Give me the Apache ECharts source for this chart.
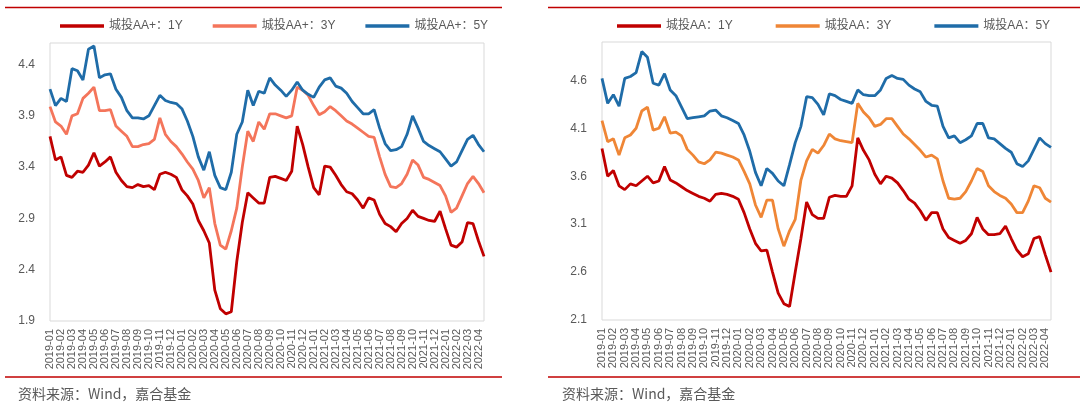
<!DOCTYPE html>
<html><head><meta charset="utf-8">
<script src="https://cdn.jsdelivr.net/npm/echarts@6/dist/echarts.min.js"></script>
<style>html,body{margin:0;padding:0;background:#fff}#c{width:1080px;height:406px}</style>
</head><body><div id="c"></div>
<script>
// Tick labels (months on x axis; two observations per month)
const months = ['2019-01','2019-02','2019-03','2019-04','2019-05','2019-06','2019-07','2019-08','2019-09','2019-10','2019-11','2019-12',
'2020-01','2020-02','2020-03','2020-04','2020-05','2020-06','2020-07','2020-08','2020-09','2020-10','2020-11','2020-12',
'2021-01','2021-02','2021-03','2021-04','2021-05','2021-06','2021-07','2021-08','2021-09','2021-10','2021-11','2021-12',
'2022-01','2022-02','2022-03','2022-04'];
const leftYTicks = [1.9, 2.4, 2.9, 3.4, 3.9, 4.4];
const rightYTicks = [2.1, 2.6, 3.1, 3.6, 4.1, 4.6];

// Left chart: 城投AA+
const aaPlus1Y = [3.70,3.47,3.50,3.32,3.30,3.36,3.35,3.42,3.54,3.41,3.45,3.50,3.35,3.27,3.21,3.20,3.23,3.21,3.22,3.18,
3.33,3.35,3.33,3.30,3.18,3.12,3.04,2.88,2.78,2.66,2.20,2.02,1.97,1.99,2.48,2.86,3.15,3.10,3.05,3.05,
3.30,3.31,3.29,3.27,3.36,3.80,3.62,3.40,3.20,3.13,3.41,3.40,3.32,3.23,3.16,3.14,3.08,3.00,3.10,3.08,
2.94,2.85,2.82,2.77,2.85,2.90,2.98,2.92,2.90,2.88,2.87,2.97,2.80,2.64,2.62,2.67,2.86,2.85,2.68,2.53];
const aaPlus3Y = [3.99,3.84,3.80,3.72,3.90,3.92,4.07,4.12,4.18,3.95,3.95,3.96,3.80,3.75,3.70,3.60,3.60,3.62,3.63,3.67,
3.88,3.72,3.65,3.60,3.53,3.45,3.38,3.27,3.10,3.20,2.85,2.64,2.60,2.78,3.00,3.40,3.75,3.65,3.84,3.77,
3.92,3.92,3.90,3.88,3.90,4.18,4.15,4.10,4.00,3.91,3.94,3.99,3.95,3.90,3.85,3.82,3.78,3.74,3.70,3.69,
3.50,3.33,3.21,3.20,3.24,3.33,3.47,3.42,3.30,3.28,3.25,3.22,3.12,2.96,3.00,3.12,3.24,3.31,3.24,3.15];
const aaPlus5Y = [4.16,4.00,4.07,4.04,4.36,4.34,4.25,4.55,4.58,4.27,4.30,4.31,4.16,4.08,3.95,3.88,3.88,3.87,3.90,4.00,
4.10,4.05,4.03,4.02,3.97,3.85,3.70,3.50,3.37,3.55,3.32,3.20,3.18,3.35,3.72,3.84,4.15,4.00,4.14,4.12,
4.27,4.20,4.15,4.09,4.15,4.23,4.15,4.11,4.08,4.18,4.25,4.27,4.19,4.17,4.12,4.04,3.98,3.92,3.92,3.96,
3.78,3.63,3.56,3.57,3.60,3.72,3.90,3.78,3.65,3.61,3.58,3.55,3.48,3.41,3.45,3.56,3.67,3.71,3.62,3.55];

// Right chart: 城投AA
const aa1Y = [3.89,3.60,3.66,3.50,3.46,3.52,3.50,3.55,3.60,3.53,3.55,3.70,3.56,3.53,3.49,3.45,3.42,3.39,3.37,3.34,
3.41,3.42,3.41,3.39,3.36,3.22,3.05,2.90,2.82,2.83,2.60,2.38,2.27,2.24,2.60,2.95,3.33,3.20,3.16,3.16,
3.38,3.40,3.39,3.39,3.50,4.00,3.87,3.77,3.62,3.52,3.60,3.58,3.53,3.45,3.36,3.32,3.24,3.14,3.22,3.22,
3.05,2.96,2.93,2.90,2.93,3.00,3.17,3.05,2.99,2.99,3.00,3.08,2.95,2.83,2.76,2.79,2.95,2.97,2.78,2.60];
const aa3Y = [4.18,3.96,3.99,3.82,4.00,4.03,4.10,4.28,4.32,4.08,4.10,4.22,4.05,4.06,4.02,3.88,3.82,3.75,3.73,3.77,
3.85,3.84,3.82,3.80,3.77,3.65,3.52,3.30,3.17,3.35,3.35,3.05,2.87,3.03,3.15,3.56,3.76,3.88,3.84,3.92,
4.04,3.99,3.97,3.96,3.95,4.36,4.27,4.21,4.12,4.14,4.20,4.20,4.12,4.04,3.99,3.93,3.87,3.80,3.82,3.78,
3.55,3.37,3.36,3.37,3.44,3.55,3.68,3.65,3.50,3.44,3.40,3.37,3.31,3.22,3.22,3.34,3.50,3.48,3.37,3.33];
const aa5Y = [4.62,4.36,4.45,4.33,4.62,4.64,4.68,4.90,4.84,4.57,4.55,4.67,4.50,4.44,4.32,4.20,4.21,4.22,4.23,4.28,
4.29,4.23,4.21,4.18,4.15,4.03,3.86,3.64,3.50,3.68,3.63,3.55,3.50,3.72,3.95,4.12,4.43,4.42,4.35,4.24,
4.46,4.44,4.40,4.38,4.36,4.50,4.45,4.44,4.44,4.50,4.62,4.65,4.62,4.61,4.55,4.51,4.48,4.38,4.34,4.33,
4.12,4.00,4.02,3.95,3.98,4.02,4.15,4.15,4.00,3.99,3.94,3.89,3.85,3.73,3.70,3.76,3.88,4.00,3.94,3.90];

const categories = months.flatMap(m => [m + '/a', m + '/b']);

const FONT = 'Liberation Sans, Noto Sans CJK SC, sans-serif';
const GREY = '#595959';
const RED = '#C00000';

function xAxis(gi) {
  return {
    type: 'category', gridIndex: gi, data: categories, boundaryGap: false,
    axisLine: {show: false}, axisTick: {show: false},
    axisLabel: {
      interval: (idx) => idx % 2 === 0,
      formatter: (v) => v.slice(0, 7),
      rotate: 90, margin: 8, color: GREY, fontSize: 11, fontFamily: FONT
    },
    splitLine: {show: false}
  };
}
function yAxis(gi, min, max, ticks) {
  return {
    type: 'value', gridIndex: gi, min: min, max: max,
    axisLine: {show: false}, axisTick: {show: false}, splitLine: {show: false},
    axisLabel: {customValues: ticks, formatter: (v) => v.toFixed(1), color: GREY, fontSize: 12, fontFamily: FONT, margin: 15}
  };
}
function line(name, data, color, gi) {
  return {name, type: 'line', data, xAxisIndex: gi, yAxisIndex: gi, symbol: 'none',
    lineStyle: {color, width: 2.8}, itemStyle: {color}, animation: false};
}

const chart = echarts.init(document.getElementById('c'), null, {renderer: 'canvas'});
chart.setOption({
  animation: false,
  grid: [
    {left: 50, top: 43, width: 434, height: 278, show: true, borderColor: '#d9d9d9', borderWidth: 1},
    {left: 602, top: 42, width: 449, height: 278, show: true, borderColor: '#d9d9d9', borderWidth: 1}
  ],
  legend: [
    {data: ['城投AA+：1Y', '城投AA+：3Y', '城投AA+：5Y'], left: 60, top: 20, padding: 0, icon: 'rect', itemWidth: 44, itemHeight: 3.5,
     itemGap: 30, textStyle: {color: GREY, fontSize: 12, fontFamily: FONT}},
    {data: ['城投AA：1Y', '城投AA：3Y', '城投AA：5Y'], left: 617, top: 20, padding: 0, icon: 'rect', itemWidth: 44, itemHeight: 3.5,
     itemGap: 43, textStyle: {color: GREY, fontSize: 12, fontFamily: FONT}}
  ],
  xAxis: [xAxis(0), xAxis(1)],
  yAxis: [yAxis(0, 1.9, 4.61, leftYTicks), yAxis(1, 2.1, 5.0, rightYTicks)],
  series: [
    line('城投AA+：1Y', aaPlus1Y, '#C00000', 0),
    line('城投AA+：3Y', aaPlus3Y, '#F4755B', 0),
    line('城投AA+：5Y', aaPlus5Y, '#1F6CA8', 0),
    line('城投AA：1Y', aa1Y, '#C00000', 1),
    line('城投AA：3Y', aa3Y, '#EF8636', 1),
    line('城投AA：5Y', aa5Y, '#1F6CA8', 1)
  ],
  graphic: [
    {type: 'line', shape: {x1: 5, y1: 7.5, x2: 502, y2: 7.5}, style: {stroke: RED, lineWidth: 1.5}},
    {type: 'line', shape: {x1: 548, y1: 7.5, x2: 1080, y2: 7.5}, style: {stroke: RED, lineWidth: 1.5}},
    {type: 'line', shape: {x1: 5, y1: 377, x2: 502, y2: 377}, style: {stroke: RED, lineWidth: 1.5}},
    {type: 'line', shape: {x1: 548, y1: 377, x2: 1080, y2: 377}, style: {stroke: RED, lineWidth: 1.5}},
    {type: 'text', left: 18, top: 387, style: {text: '资料来源：Wind，嘉合基金', fill: GREY, font: '14px "Noto Sans CJK SC", sans-serif'}},
    {type: 'text', left: 562, top: 387, style: {text: '资料来源：Wind，嘉合基金', fill: GREY, font: '14px "Noto Sans CJK SC", sans-serif'}}
  ]
});
</script></body></html>
